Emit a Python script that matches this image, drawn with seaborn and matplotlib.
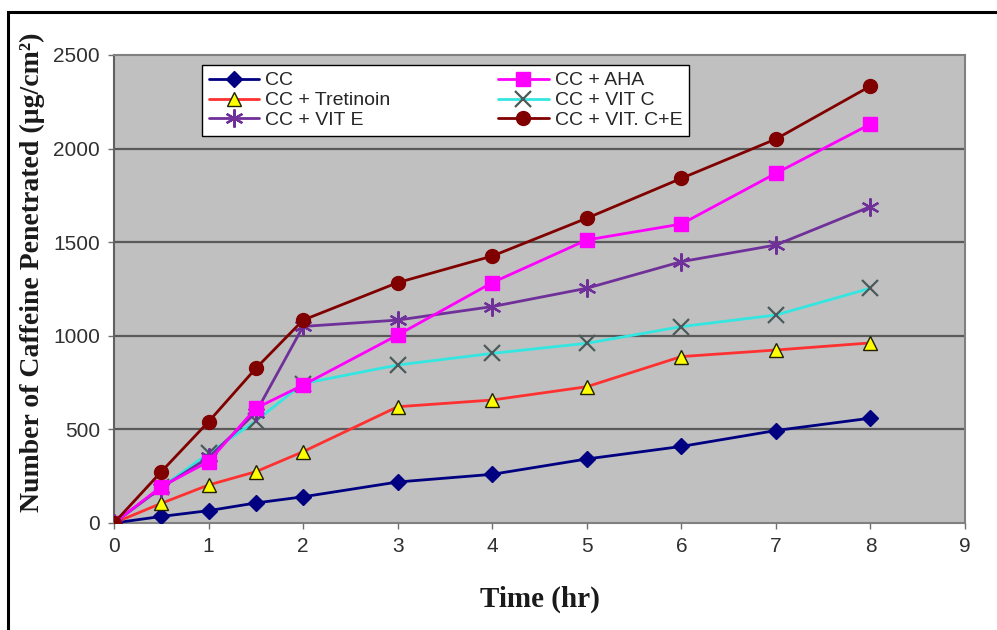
import matplotlib
matplotlib.use("Agg")
import matplotlib.pyplot as plt
import seaborn as sns
import pandas as pd
from matplotlib.patches import Rectangle

time_hr = [0, 0.5, 1, 1.5, 2, 3, 4, 5, 6, 7, 8]
cc = [0, 35, 66, 107, 140, 219, 260, 342, 409, 494, 560]
cc_tretinoin = [0, 105, 203, 274, 381, 621, 657, 728, 889, 924, 962]
cc_aha = [0, 194, 328, 613, 737, 1004, 1284, 1512, 1597, 1868, 2131]
cc_vitc = [0, 190, 372, 545, 745, 844, 906, 960, 1049, 1111, 1254]
cc_vite = [0, 188, 350, 590, 1050, 1084, 1156, 1254, 1396, 1485, 1690]
cc_vitce = [0, 274, 541, 826, 1084, 1284, 1426, 1628, 1841, 2051, 2334]

series_names = ["CC", "CC + Tretinoin", "CC + VIT E", "CC + AHA", "CC + VIT C", "CC + VIT. C+E"]
series_values = [cc, cc_tretinoin, cc_vite, cc_aha, cc_vitc, cc_vitce]
x_ticks = list(range(0, 10))
y_ticks = [0, 500, 1000, 1500, 2000, 2500]

rows = []
for name, vals in zip(series_names, series_values):
    for t, v in zip(time_hr, vals):
        rows.append({"Time": t, "Value": v, "Series": name})
df = pd.DataFrame(rows)

styles = {
    "CC": dict(color="#000080", marker="D", mfc="#000080", mec="#000080", ms=8),
    "CC + Tretinoin": dict(color="#FF3030", marker="^", mfc="#FFFF00", mec="#202000", ms=10),
    "CC + VIT E": dict(color="#70309A", marker=(6, 2, 0), mfc="#70309A", mec="#70309A", ms=13),
    "CC + AHA": dict(color="#FF00FF", marker="s", mfc="#FF00FF", mec="#FF00FF", ms=10),
    "CC + VIT C": dict(color="#33E6E0", marker="x", mfc="#4A5A5A", mec="#4A5A5A", ms=11),
    "CC + VIT. C+E": dict(color="#800000", marker="o", mfc="#800000", mec="#800000", ms=10),
}
draw_order = ["CC", "CC + Tretinoin", "CC + VIT C", "CC + VIT E", "CC + AHA", "CC + VIT. C+E"]

sns.set_style("white")
plt.rcParams["font.family"] = ["Liberation Sans", "DejaVu Sans"]

fig = plt.figure(figsize=(9.97, 6.3), dpi=100)
ax = fig.add_axes([114/997, 1-523/630, (965-114)/997, (523-55)/630])
ax.set_facecolor("#C0C0C0")

for name in draw_order:
    st = styles[name]
    sub = df[df["Series"] == name]
    sns.lineplot(data=sub, x="Time", y="Value", ax=ax, color=st["color"], lw=2,
                 marker=st["marker"], markersize=st["ms"], markerfacecolor=st["mfc"],
                 markeredgecolor=st["mec"], markeredgewidth=1.6 if st["marker"] in ("x", (6, 2, 0)) else 1,
                 label=name, zorder=3)
h, l = ax.get_legend_handles_labels()
hd = dict(zip(l, h))

ax.set_xlim(0, 9)
ax.set_ylim(0, 2500)
ax.set_xticks(x_ticks)
ax.set_yticks(y_ticks)
for yv in y_ticks[1:-1]:
    ax.axhline(yv, color="#5A5A5A", lw=1.6, zorder=1)
for s in ax.spines.values():
    s.set_color("#808080")
    s.set_linewidth(1.5)
ax.spines["left"].set_color("#606060")
ax.tick_params(axis="both", direction="out", length=4, width=1, color="#707070",
               labelsize=15, labelcolor="#303030", left=True, bottom=True, pad=6)

ax.set_xlabel("Time (hr)", fontsize=21, fontweight="bold", family="Liberation Serif", color="#1A1A1A")
ax.set_ylabel("Number of Caffeine Penetrated (µg/cm²)", fontsize=20, fontweight="bold",
              family="Liberation Serif", color="#1A1A1A")
ax.yaxis.set_label_coords(-69/851, (523-272)/468)
ax.xaxis.set_label_coords(0.5, -63/468)

leg = ax.legend([hd[n] for n in series_names], series_names, ncol=2, loc="upper left",
                bbox_to_anchor=(88/851, (523-143)/468, 487/851, 78/468), mode="expand",
                fontsize=14, frameon=True, fancybox=False, edgecolor="#000000",
                labelspacing=0.12, handlelength=2.6, handletextpad=0.3,
                borderpad=0.35, columnspacing=1.0, borderaxespad=0)
leg.get_frame().set_linewidth(1.0)
leg.get_frame().set_facecolor("white")
leg.get_frame().set_alpha(1)
leg.set_zorder(5)

fig.patches.append(Rectangle((8/997, -0.1), 1.2, 1 - 12/630 + 0.1, transform=fig.transFigure,
                             fill=False, edgecolor="black", lw=2.2))

fig.savefig("out.png", dpi=100)
